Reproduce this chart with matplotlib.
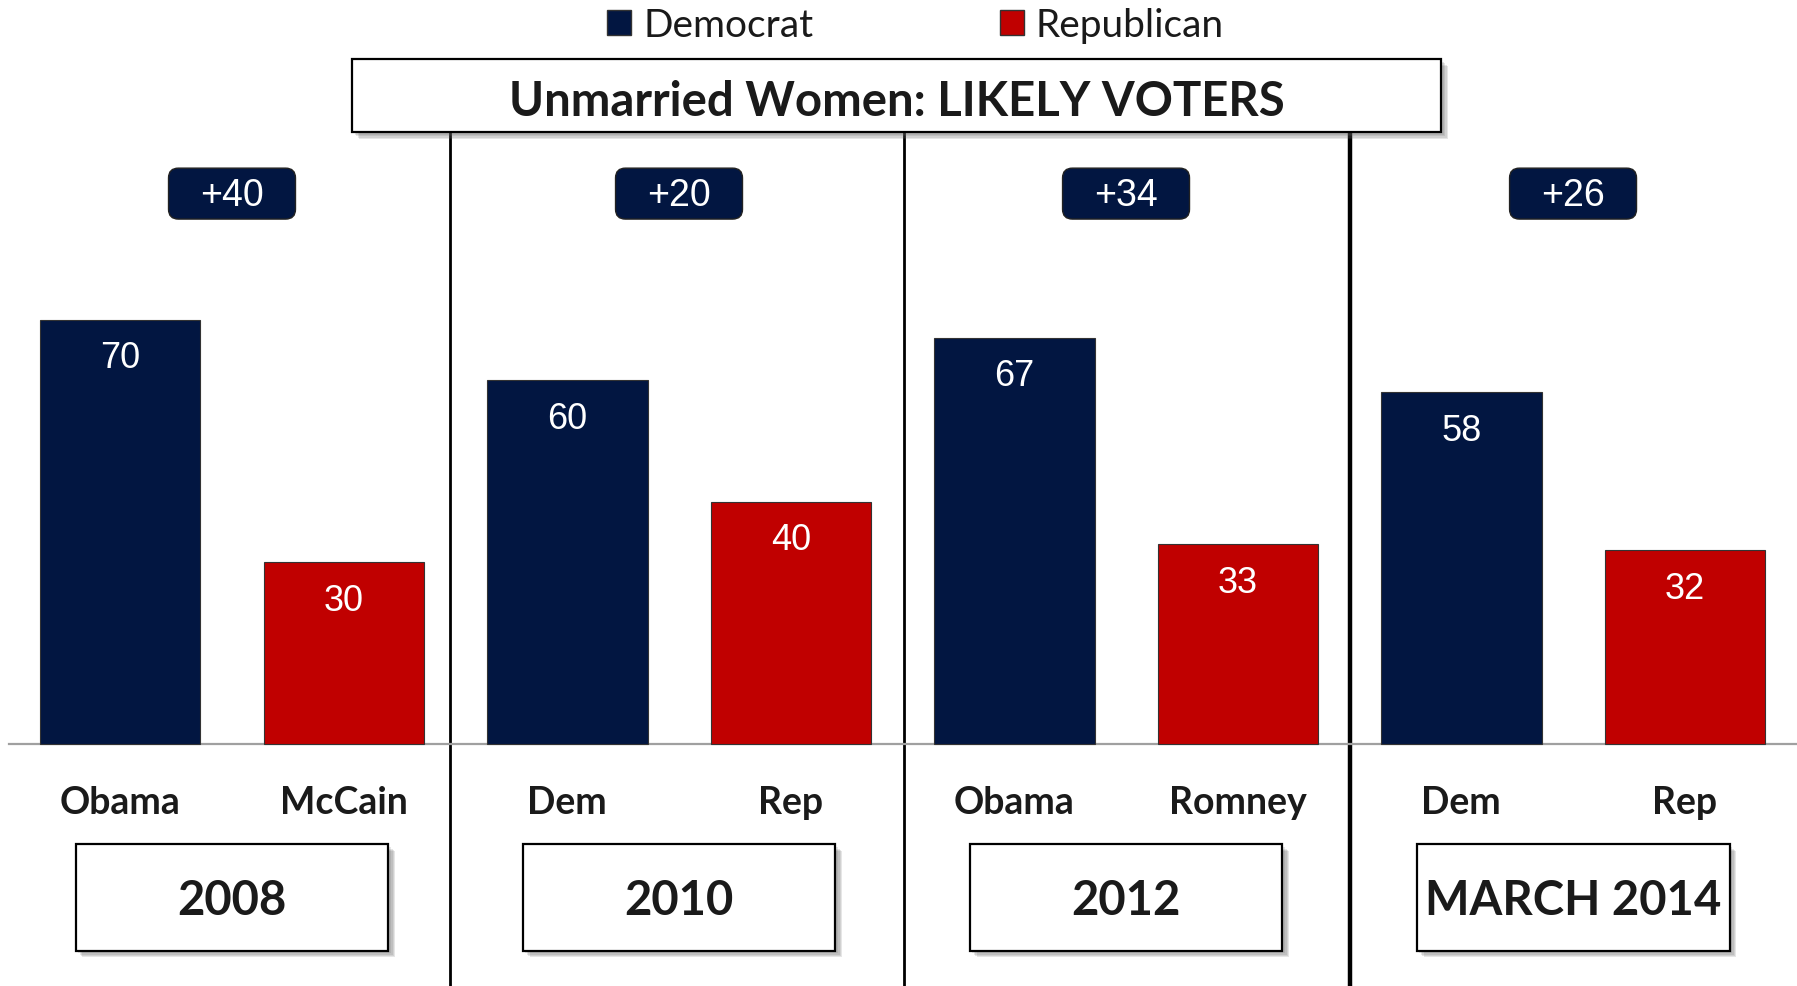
import numpy as np
import matplotlib
matplotlib.use('Agg')
import matplotlib.pyplot as plt
from matplotlib.patches import FancyBboxPatch, Rectangle, Patch
import matplotlib.patheffects as pe

# data
periods = ["2008", "2010", "2012", "MARCH 2014"]
dem_names = ["Obama", "Dem", "Obama", "Dem"]
rep_names = ["McCain", "Rep", "Romney", "Rep"]
dem_vals = [70, 60, 67, 58]
rep_vals = [30, 40, 33, 32]
margins = ["+40", "+20", "+34", "+26"]
title = "Unmarried Women: LIKELY VOTERS"

NAVY = "#021641"
RED = "#C00000"
INK = "#1a1a1a"
HEAD = "Lato"
NUM = "Liberation Sans"

W, H = 1797, 987
fig = plt.figure(figsize=(W / 100, H / 100), dpi=100)
ax = fig.add_axes([0, 0, 1, 1])
ax.set_xlim(-0.519, 3.501)
ax.set_ylim(-39.9, 122.9)
ax.axis('off')

x = np.arange(len(periods))
off, bw = 0.25, 0.359
ax.bar(x - off, dem_vals, bw, color=NAVY, edgecolor="#333333", lw=0.8, label="Democrat", zorder=3)
ax.bar(x + off, rep_vals, bw, color=RED, edgecolor="#333333", lw=0.8, label="Republican", zorder=3)

for xi, v in zip(x - off, dem_vals):
    ax.annotate(str(v), (xi, v), xytext=(0, -38), textcoords='offset pixels',
                ha='center', va='center', color='white', fontsize=26, family=NUM, zorder=4)
for xi, v in zip(x + off, rep_vals):
    ax.annotate(str(v), (xi, v), xytext=(0, -38), textcoords='offset pixels',
                ha='center', va='center', color='white', fontsize=26, family=NUM, zorder=4)

# baseline and dividers (dividers sit a touch off the exact midpoints)
ax.axhline(0, xmin=9 / W, xmax=1, color="#a0a0a0", lw=1.6, zorder=2)
for xd, lw in zip([0.488, 1.503, 2.501], [2.0, 2.0, 3.2]):
    ax.axvline(xd, ymin=0, ymax=854 / H, color="black", lw=lw, zorder=1)

# x-per-pixel vs y-per-pixel, for rounded corners in data coords
aspect = (1 / 6.06) / (1 / 447)

# soft drop shadow
shadow = [pe.SimplePatchShadow(offset=(d, -d), shadow_rgbFace='#666666', alpha=0.16)
          for d in (5, 4, 3, 2)] + [pe.Normal()]

for xi, m, dn, rn, p in zip(x, margins, dem_names, rep_names, periods):
    bw_m, bh_m = 0.284, 8.4
    box = FancyBboxPatch((xi - bw_m / 2, 90.8 - bh_m / 2), bw_m, bh_m,
                         boxstyle="round,pad=0,rounding_size=0.022", mutation_aspect=aspect,
                         fc=NAVY, ec="#222222", lw=1, zorder=3)
    ax.add_patch(box)
    ax.text(xi, 90.6, m, ha='center', va='center', color='white', fontsize=27, family=NUM, zorder=4)

    ax.text(xi - off, -9.5, dn, ha='center', va='center', color=INK, fontsize=27,
            family=HEAD, weight='bold')
    ax.text(xi + off, -9.5, rn, ha='center', va='center', color=INK, fontsize=27,
            family=HEAD, weight='bold')

    yb_w, yb_h = 0.70, 17.5
    yb = Rectangle((xi - yb_w / 2, -25.3 - yb_h / 2), yb_w, yb_h, fc='white', ec='black',
                   lw=1.6, zorder=3)
    yb.set_path_effects(shadow)
    ax.add_patch(yb)
    ax.text(xi, -25.7, p, ha='center', va='center', color=INK, fontsize=34,
            family=HEAD, weight='bold', zorder=4)

# title box
tb = Rectangle((352 / W, 854 / H), (1441 - 352) / W, (927 - 854) / H, transform=ax.transAxes,
               fc='white', ec='black', lw=1.6, zorder=5)
tb.set_path_effects(shadow)
ax.add_patch(tb)
ax.text((352 + 1441) / 2 / W, 885 / H, title, transform=ax.transAxes, ha='center', va='center',
        color=INK, fontsize=34, family=HEAD, weight='bold', zorder=6)

handles = [Patch(fc=NAVY, ec="#333333", label="Democrat"), Patch(fc=RED, ec="#333333", label="Republican")]
ax.legend(handles=handles, loc='center', bbox_to_anchor=(0.5 + 17 / W, 1 - 26 / H), ncol=2,
          frameon=False, prop={'family': HEAD, 'size': 28}, handlelength=0.62, handleheight=0.62,
          handletextpad=0.3, columnspacing=4.8, labelcolor=INK)

fig.savefig("out.png", dpi=100)
